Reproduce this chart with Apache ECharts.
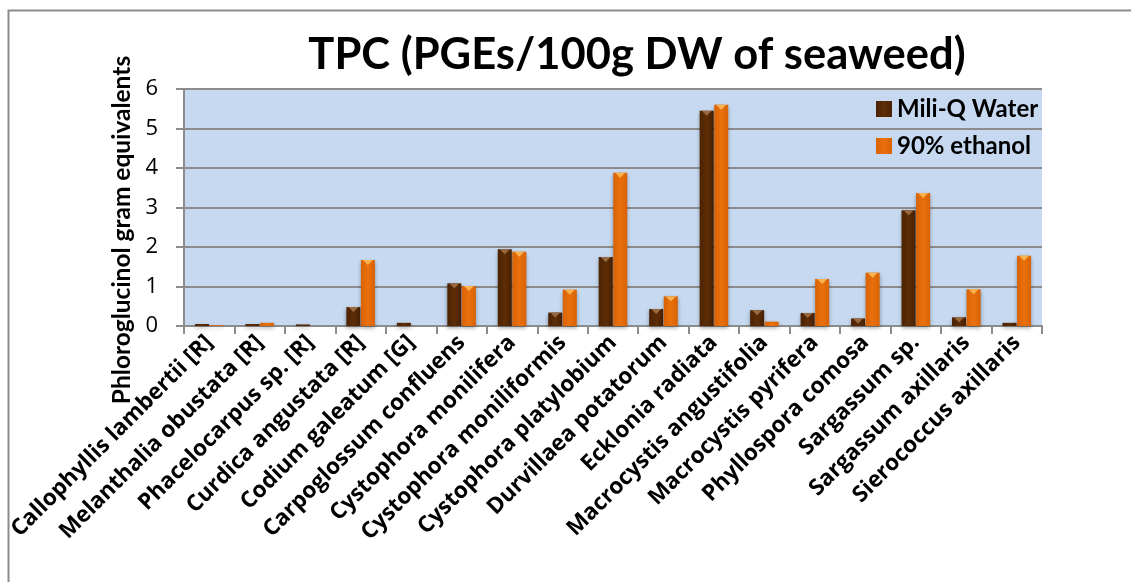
<!DOCTYPE html>
<html>
<head>
<meta charset="utf-8">
<script src="https://cdn.jsdelivr.net/npm/echarts@6/dist/echarts.min.js"></script>
<style>
html,body{margin:0;padding:0;background:#fff;}
#chart{width:1131px;height:582px;}
</style>
</head>
<body>
<div id="chart"></div>
<script>
var categories = [
  'Callophyllis lambertii [R]', 'Melanthalia obustata [R]', 'Phacelocarpus sp. [R]',
  'Curdica angustata [R]', 'Codium galeatum [G]', 'Carpoglossum confluens',
  'Cystophora monilifera', 'Cystophora moniliformis', 'Cystophora platylobium',
  'Durvillaea potatorum', 'Ecklonia radiata', 'Macrocystis angustifolia',
  'Macrocystis pyrifera', 'Phyllospora comosa', 'Sargassum sp.',
  'Sargassum axillaris', 'Sierococcus axillaris'
];
var waterValues = [0.05, 0.05, 0.04, 0.48, 0.08, 1.08, 1.94, 0.34, 1.75, 0.43, 5.45, 0.40, 0.33, 0.19, 2.93, 0.22, 0.08];
var ethanolValues = [0.02, 0.08, 0, 1.67, 0, 1.01, 1.88, 0.92, 3.88, 0.75, 5.60, 0.11, 1.19, 1.35, 3.37, 0.93, 1.78];
var seriesNames = ['Mili-Q Water', '90% ethanol'];
var titleText = 'TPC (PGEs/100g DW of seaweed)';
var yAxisTitle = 'Phloroglucinol gram equivalents';

var FONT = 'Open Sans';
var TFONT = 'Lato';
var chart = echarts.init(document.getElementById('chart'), null, {renderer: 'canvas'});

function hGrad(edge, mid) {
  return new echarts.graphic.LinearGradient(0, 0, 1, 0, [
    {offset: 0, color: edge}, {offset: 0.5, color: mid}, {offset: 1, color: edge}
  ]);
}
var brown = hGrad('#4a2203', '#5e2d06');
var orange = hGrad('#d86204', '#ea700c');
var triPath = 'path://M0,0 L10,0 L5,5 Z';
function bevelData(arr) {
  return arr.map(function (v) { return v >= 0.15 ? v : '-'; });
}

var option = {
  animation: false,
  backgroundColor: '#ffffff',
  title: {
    text: titleText,
    left: 632, top: 28, textAlign: 'center',
    textStyle: {fontFamily: TFONT, fontWeight: 'bold', fontSize: 43.5, color: '#000'}
  },
  legend: {
    orient: 'vertical', left: 871, top: 92,
    itemWidth: 16, itemHeight: 16, itemGap: 13,
    icon: 'rect',
    textStyle: {fontFamily: TFONT, fontWeight: 'bold', fontSize: 24, color: '#000'},
    data: seriesNames
  },
  grid: {left: 184, right: 89, top: 89, bottom: 256, show: true, backgroundColor: '#c6d9f0', borderWidth: 0},
  xAxis: {
    type: 'category', data: categories,
    axisLine: {show: true, lineStyle: {color: '#8c8c8c', width: 2}},
    axisTick: {show: true, interval: 0, length: 8, lineStyle: {color: '#8c8c8c', width: 2}},
    axisLabel: {interval: 0, rotate: 45, margin: 13, fontFamily: FONT, fontWeight: 'bold', fontSize: 22.5, color: '#000'}
  },
  yAxis: {
    type: 'value', min: 0, max: 6, interval: 1,
    axisLine: {show: true, lineStyle: {color: '#8c8c8c', width: 2}},
    axisTick: {show: true, length: 8, lineStyle: {color: '#8c8c8c', width: 2}},
    axisLabel: {margin: 26, fontFamily: FONT, fontSize: 22, color: '#000'},
    splitLine: {show: true, lineStyle: {color: '#8c8c8c', width: 2}}
  },
  graphic: [
    {type: 'rect', left: 6, top: 8, shape: {width: 1200, height: 700}, style: {fill: 'none', stroke: '#8c8c8c', lineWidth: 2}, silent: true},
    {type: 'text', x: 122, y: 230, rotation: Math.PI / 2,
     style: {text: yAxisTitle, fill: '#000', font: 'bold 24.5px ' + TFONT, align: 'center', verticalAlign: 'middle'}}
  ],
  series: [
    {name: seriesNames[0], type: 'bar', data: waterValues, barWidth: 14, barGap: '4%',
     itemStyle: {color: brown, shadowBlur: 4, shadowColor: 'rgba(0,0,0,0.35)', shadowOffsetY: 2}},
    {name: seriesNames[1], type: 'bar', data: ethanolValues, barWidth: 14, barGap: '4%',
     itemStyle: {color: orange, shadowBlur: 4, shadowColor: 'rgba(0,0,0,0.35)', shadowOffsetY: 2}},
    {name: 'tri1', type: 'pictorialBar', data: bevelData(waterValues), barWidth: 14, barGap: '4%', z: 5,
     symbol: triPath, symbolSize: [10, 5], symbolPosition: 'end', silent: true,
     itemStyle: {color: '#9a6a42'}},
    {name: 'tri2', type: 'pictorialBar', data: bevelData(ethanolValues), barWidth: 14, barGap: '4%', z: 5,
     symbol: triPath, symbolSize: [10, 5], symbolPosition: 'end', silent: true,
     itemStyle: {color: '#f8b24e'}}
  ]
};
chart.setOption(option);
</script>
</body>
</html>
